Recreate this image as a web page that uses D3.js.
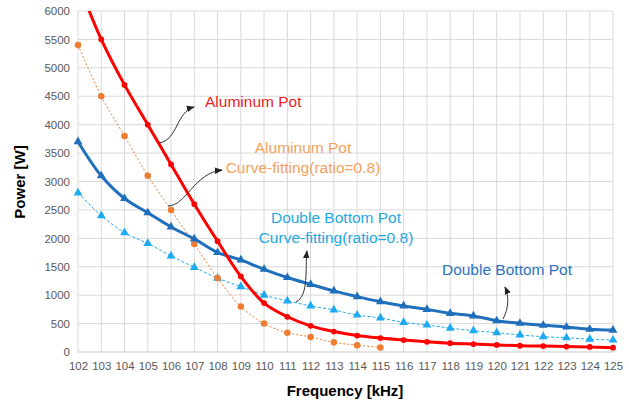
<!DOCTYPE html>
<html>
<head>
<meta charset="utf-8">
<title>Power vs Frequency</title>
<style>
  body { margin: 0; background: #fff; }
  svg { display: block; }
  .tick text { font-family: "Liberation Sans", Arial, sans-serif; font-size: 11.5px; fill: #595959; }
</style>
</head>
<body>
<svg id="chart" width="629" height="402"></svg>
<script src="https://d3js.org/d3.v7.min.js"></script>
<script>
// data
var freq = [102, 103, 104, 105, 106, 107, 108, 109, 110, 111, 112, 113, 114, 115, 116, 117, 118, 119, 120, 121, 122, 123, 124, 125];
var aluminum = [6500, 5500, 4700, 4000, 3300, 2600, 1950, 1330, 860, 620, 460, 360, 290, 245, 210, 180, 155, 140, 125, 110, 105, 95, 90, 75];
var aluminumFit = [5400, 4500, 3800, 3100, 2500, 1900, 1300, 800, 500, 340, 265, 170, 120, 80];
var doubleBottom = [3700, 3100, 2700, 2450, 2200, 1990, 1750, 1620, 1455, 1310, 1190, 1075, 975, 885, 810, 750, 680, 635, 550, 505, 470, 440, 400, 385];
var doubleFit = [2800, 2400, 2100, 1910, 1690, 1490, 1300, 1150, 1000, 900, 810, 740, 650, 600, 520, 475, 420, 375, 340, 300, 270, 250, 225, 210];
var yTicks = [0, 500, 1000, 1500, 2000, 2500, 3000, 3500, 4000, 4500, 5000, 5500, 6000];

var svg = d3.select('#chart');
// plot box (don't call it "top", that clashes with window.top)
var pL = 78, pR = 613, pT = 11, pB = 352;

var x = d3.scaleLinear().domain([102, 125]).range([pL, pR]);
var y = d3.scaleLinear().domain([0, 6000]).range([pB, pT]);

// grid
svg.append('g').selectAll('line').data(freq).enter().append('line')
  .attr('x1', function(d) { return x(d); }).attr('x2', function(d) { return x(d); })
  .attr('y1', pT).attr('y2', pB)
  .attr('stroke', '#d9d9d9').attr('stroke-width', 1);
svg.append('g').selectAll('line').data(yTicks).enter().append('line')
  .attr('x1', pL).attr('x2', pR)
  .attr('y1', function(d) { return y(d); }).attr('y2', function(d) { return y(d); })
  .attr('stroke', function(d) { return d === 0 ? '#c8c8c8' : '#d9d9d9'; }).attr('stroke-width', 1);

// axes (text only)
var xAxis = svg.append('g').attr('transform', 'translate(0,' + pB + ')')
  .call(d3.axisBottom(x).tickValues(freq).tickFormat(d3.format('d')).tickSize(0).tickPadding(10));
xAxis.select('.domain').remove();
var yAxis = svg.append('g').attr('transform', 'translate(' + pL + ',0)')
  .call(d3.axisLeft(y).tickValues(yTicks).tickFormat(d3.format('d')).tickSize(0).tickPadding(8));
yAxis.select('.domain').remove();

svg.append('text').attr('x', 345).attr('y', 396).attr('text-anchor', 'middle')
  .style('font-family', '"Liberation Sans", Arial, sans-serif').style('font-size', '15px').style('font-weight', 'bold')
  .text('Frequency [kHz]');
svg.append('text').attr('transform', 'translate(25,182) rotate(-90)').attr('text-anchor', 'middle')
  .style('font-family', '"Liberation Sans", Arial, sans-serif').style('font-size', '15px').style('font-weight', 'bold')
  .text('Power [W]');

svg.append('clipPath').attr('id', 'plot').append('rect')
  .attr('x', pL - 6).attr('y', pT).attr('width', pR - pL + 12).attr('height', pB - pT + 6);

function pts(vals) {
  return vals.map(function(v, i) { return [freq[i], v]; });
}
var line = d3.line().x(function(d) { return x(d[0]); }).y(function(d) { return y(d[1]); })
  .curve(d3.curveCatmullRom.alpha(0.5));

var series = [
  { vals: doubleFit, color: '#1eaaf0', width: 1, dash: '3,2', symbol: d3.symbolTriangle, size: 34 },
  { vals: aluminumFit, color: '#ed7d31', width: 1, dash: '2,2', symbol: d3.symbolCircle, size: 34 },
  { vals: doubleBottom, color: '#1f6fbd', width: 3, dash: null, symbol: d3.symbolTriangle, size: 34 },
  { vals: aluminum, color: '#ff0000', width: 3, dash: null, symbol: d3.symbolCircle, size: 26 }
];

var plot = svg.append('g').attr('clip-path', 'url(#plot)');
series.forEach(function(s) {
  var data = pts(s.vals);
  plot.append('path').datum(data).attr('d', line)
    .attr('fill', 'none').attr('stroke', s.color).attr('stroke-width', s.width)
    .attr('stroke-dasharray', s.dash);
  plot.selectAll(null).data(data).enter().append('path')
    .attr('d', d3.symbol().type(s.symbol).size(s.size))
    .attr('transform', function(d) { return 'translate(' + x(d[0]) + ',' + y(d[1]) + ')'; })
    .attr('fill', s.color);
});

// annotations
svg.append('defs').append('marker').attr('id', 'arrow')
  .attr('viewBox', '0 0 10 10').attr('refX', 9).attr('refY', 5)
  .attr('markerWidth', 8).attr('markerHeight', 8).attr('orient', 'auto')
  .append('path').attr('d', 'M0,1 L10,5 L0,9 Z').attr('fill', '#222');

var arrows = [
  'M159,143 C178,140 176,112 194,107',
  'M168,206 C186,206 194,173 222,170',
  'M296,302 C309,296 305,268 307,251',
  'M503,319 C509,308 509,296 505,287'
];
svg.selectAll('.arrow').data(arrows).enter().append('path')
  .attr('d', function(d) { return d; })
  .attr('fill', 'none').attr('stroke', '#333').attr('stroke-width', 1)
  .attr('marker-end', 'url(#arrow)');

var labels = [
  { lines: ['Aluminum Pot'], x: 205, y: 107, anchor: 'start', color: '#ee1c25' },
  { lines: ['Aluminum Pot', 'Curve-fitting(ratio=0.8)'], x: 303, y: 153, anchor: 'middle', color: '#f4a15c' },
  { lines: ['Double Bottom Pot', 'Curve-fitting(ratio=0.8)'], x: 336, y: 223, anchor: 'middle', color: '#1fa9e1' },
  { lines: ['Double Bottom Pot'], x: 507, y: 275, anchor: 'middle', color: '#2a73bd' }
];
labels.forEach(function(l) {
  var t = svg.append('text').attr('text-anchor', l.anchor).attr('fill', l.color)
    .style('font-family', '"Liberation Sans", Arial, sans-serif').style('font-size', '15.5px');
  l.lines.forEach(function(s, i) {
    t.append('tspan').attr('x', l.x).attr('y', l.y + i * 20).text(s);
  });
});
</script>
</body>
</html>
